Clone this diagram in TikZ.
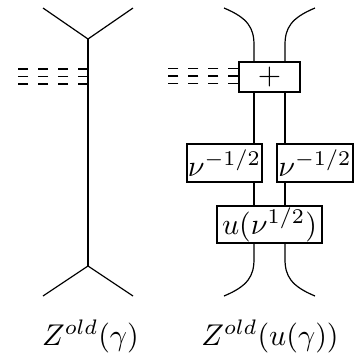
\documentclass[tikz,border=0pt]{standalone}
\begin{document}
\begin{tikzpicture}[x=0.33333pt,y=-0.33333pt,
  box/.style={draw, inner sep=0pt, line width=0.4pt},
  wire/.style={line width=0.4pt},
  ghost/.style={dash pattern=on 3.333pt off 3.333pt, line width=0.4pt}]
\useasboundingbox (0,0) rectangle (359,358);
% ---------- left diagram ----------
\coordinate (vt) at (88,39);
\coordinate (vb) at (88,266);
\coordinate (a1) at (43,8);
\coordinate (a2) at (133,8);
\coordinate (b1) at (43,296);
\coordinate (b2) at (133,296);
\draw[wire] (a1) -- (vt) -- (a2);
\draw[wire] (vt) -- (vb);
\draw[wire] (b1) -- (vb) -- (b2);
\coordinate (g1) at (88,69);
\coordinate (g2) at (88,76.5);
\coordinate (g3) at (88,84);
\foreach \g in {g1,g2,g3} \draw[ghost] (\g) -- ++(-70,0);
\node[anchor=base] (lab1) at (90.5,345) {$Z^{old}(\gamma)$};
% ---------- right diagram ----------
\coordinate (xL) at (254,0);
\coordinate (xR) at (285,0);
\node[box, minimum width=20.33pt, minimum height=10pt] (plus) at (269.5,77) {$+$};
\node[box, minimum width=25pt, minimum height=12.67pt] (nl) at (224.5,163) {$\nu^{-1/2}$};
\node[box, minimum width=25.33pt, minimum height=12.67pt] (nr) at (315,163) {$\nu^{-1/2}$};
\node[box, minimum width=35pt, minimum height=12.33pt] (u) at (269.5,224.5) {$u(\nu^{1/2})$};
\coordinate (tl) at (224,8);
\coordinate (tr) at (315,8);
\coordinate (bl) at (224,296);
\coordinate (br) at (315,296);
\draw[wire] (tl) .. controls (248,18) and (254,28) .. (254,45) -- (plus.north -| xL);
\draw[wire] (tr) .. controls (291,18) and (285,28) .. (285,45) -- (plus.north -| xR);
\draw[wire] (plus.south -| xL) -- (nl.north -| xL);
\draw[wire] (plus.south -| xR) -- (nr.north -| xR);
\draw[wire] (nl.south -| xL) -- (u.north -| xL);
\draw[wire] (nr.south -| xR) -- (u.north -| xR);
\draw[wire] (bl) .. controls (248,286) and (254,276) .. (254,259) -- (u.south -| xL);
\draw[wire] (br) .. controls (291,286) and (285,276) .. (285,259) -- (u.south -| xR);
\foreach \d in {7,14.5,22} \draw[ghost] ([yshift=-\d*0.33333pt]plus.north west) -- ++(-70,0);
\node[anchor=base] (lab2) at (270,345) {$Z^{old}(u(\gamma))$};
\end{tikzpicture}
\end{document}
